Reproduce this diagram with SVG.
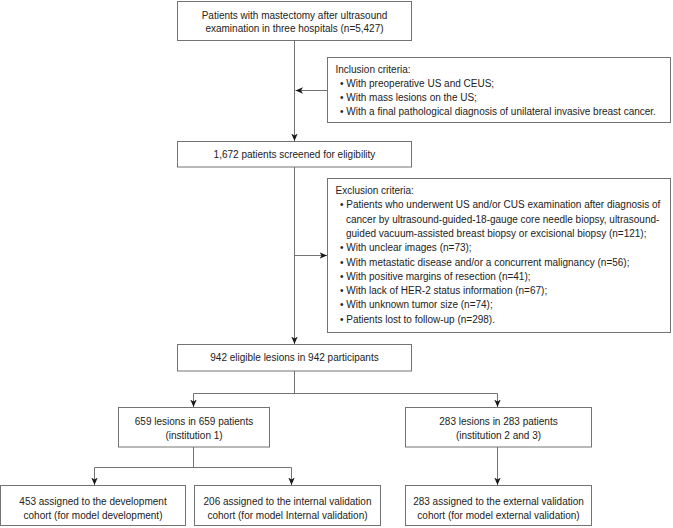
<svg xmlns="http://www.w3.org/2000/svg" width="673" height="528" viewBox="0 0 673 528">
<style>
  .box { fill: #ffffff; stroke: #737373; stroke-width: 1; }
  .t { font-family: "Liberation Sans", Arial, sans-serif; font-size: 10px; fill: #222222; }
  .c { text-anchor: middle; }
  .ln { fill: none; stroke: #737373; stroke-width: 1; }
</style>
<defs>
  <marker id="ah" markerWidth="9" markerHeight="8" refX="7.5" refY="3.25" orient="auto" markerUnits="userSpaceOnUse">
    <path d="M0,0 L7.5,3.25 L0,6.5 L2,3.25 z" fill="#1a1a1a"/>
  </marker>
</defs>
<rect width="673" height="528" fill="#ffffff"/>

<g id="connectors">
  <path class="ln" d="M294.5,40.5 V141" marker-end="url(#ah)"/>
  <path class="ln" d="M327,90.5 H295.5" marker-end="url(#ah)"/>
  <path class="ln" d="M294.5,167 V344" marker-end="url(#ah)"/>
  <path class="ln" d="M294.5,255.5 H327" marker-end="url(#ah)"/>
  <path class="ln" d="M294.5,371 V393.5"/>
  <path class="ln" d="M193.5,393.5 H497.5"/>
  <path class="ln" d="M193.5,393.5 V407" marker-end="url(#ah)"/>
  <path class="ln" d="M497.5,393.5 V407" marker-end="url(#ah)"/>
  <path class="ln" d="M193.5,447 V467.5"/>
  <path class="ln" d="M94.5,467.5 H291.5"/>
  <path class="ln" d="M94.5,467.5 V485" marker-end="url(#ah)"/>
  <path class="ln" d="M291.5,467.5 V485" marker-end="url(#ah)"/>
  <path class="ln" d="M497.5,447 V485" marker-end="url(#ah)"/>
</g>

<g id="n_patients">
  <rect class="box" x="177.5" y="1.5" width="234" height="39"/>
  <text class="t c" x="294.5" y="18.5">Patients with mastectomy after ultrasound</text>
  <text class="t c" x="294.5" y="31.5">examination in three hospitals (n=5,427)</text>
</g>

<g id="n_inclusion">
  <rect class="box" x="327.5" y="57.5" width="343" height="65"/>
  <text class="t" x="335.5" y="72.5">Inclusion criteria:</text>
  <text class="t" x="340" y="86.5">• With preoperative US and CEUS;</text>
  <text class="t" x="340" y="100.5">• With mass lesions on the US;</text>
  <text class="t" x="340" y="114.5">• With a final pathological diagnosis of unilateral invasive breast cancer.</text>
</g>

<g id="n_screened">
  <rect class="box" x="177.5" y="141.5" width="234" height="25.5"/>
  <text class="t c" x="294.5" y="157.5">1,672 patients screened for eligibility</text>
</g>

<g id="n_exclusion">
  <rect class="box" x="327.5" y="178.5" width="343" height="154"/>
  <text class="t" x="335.5" y="194">Exclusion criteria:</text>
  <text class="t" x="340" y="208.3">• Patients who underwent US and/or CUS examination after diagnosis of</text>
  <text class="t" x="346" y="222.6">cancer by ultrasound-guided-18-gauge core needle biopsy, ultrasound-</text>
  <text class="t" x="346" y="236.9">guided vacuum-assisted breast biopsy or excisional biopsy (n=121);</text>
  <text class="t" x="340" y="251.2">• With unclear images (n=73);</text>
  <text class="t" x="340" y="265.5">• With metastatic disease and/or a concurrent malignancy (n=56);</text>
  <text class="t" x="340" y="279.8">• With positive margins of resection (n=41);</text>
  <text class="t" x="340" y="294.1">• With lack of HER-2 status information (n=67);</text>
  <text class="t" x="340" y="308.4">• With unknown tumor size (n=74);</text>
  <text class="t" x="340" y="322.7">• Patients lost to follow-up (n=298).</text>
</g>

<g id="n_eligible">
  <rect class="box" x="177.5" y="344.5" width="234" height="26.5"/>
  <text class="t c" x="294.5" y="361">942 eligible lesions in 942 participants</text>
</g>

<g id="n_inst1">
  <rect class="box" x="118.5" y="407.5" width="151" height="39.5"/>
  <text class="t c" x="194" y="424.5">659 lesions in 659 patients</text>
  <text class="t c" x="194" y="438.5">(institution 1)</text>
</g>

<g id="n_inst23">
  <rect class="box" x="405.5" y="407.5" width="186" height="39.5"/>
  <text class="t c" x="498.5" y="424.5">283 lesions in 283 patients</text>
  <text class="t c" x="498.5" y="438.5">(institution 2 and 3)</text>
</g>

<g id="n_dev">
  <rect class="box" x="0.5" y="485.5" width="185" height="40"/>
  <text class="t c" x="93" y="504.5">453 assigned to the development</text>
  <text class="t c" x="93" y="518.5">cohort (for model development)</text>
</g>

<g id="n_intval">
  <rect class="box" x="194.5" y="485.5" width="186" height="40"/>
  <text class="t c" x="287.5" y="504.5">206 assigned to the internal validation</text>
  <text class="t c" x="287.5" y="518.5">cohort (for model Internal validation)</text>
</g>

<g id="n_extval">
  <rect class="box" x="405.5" y="485.5" width="186" height="40"/>
  <text class="t c" x="498.5" y="504.5">283 assigned to the external validation</text>
  <text class="t c" x="498.5" y="518.5">cohort (for model external validation)</text>
</g>
</svg>
